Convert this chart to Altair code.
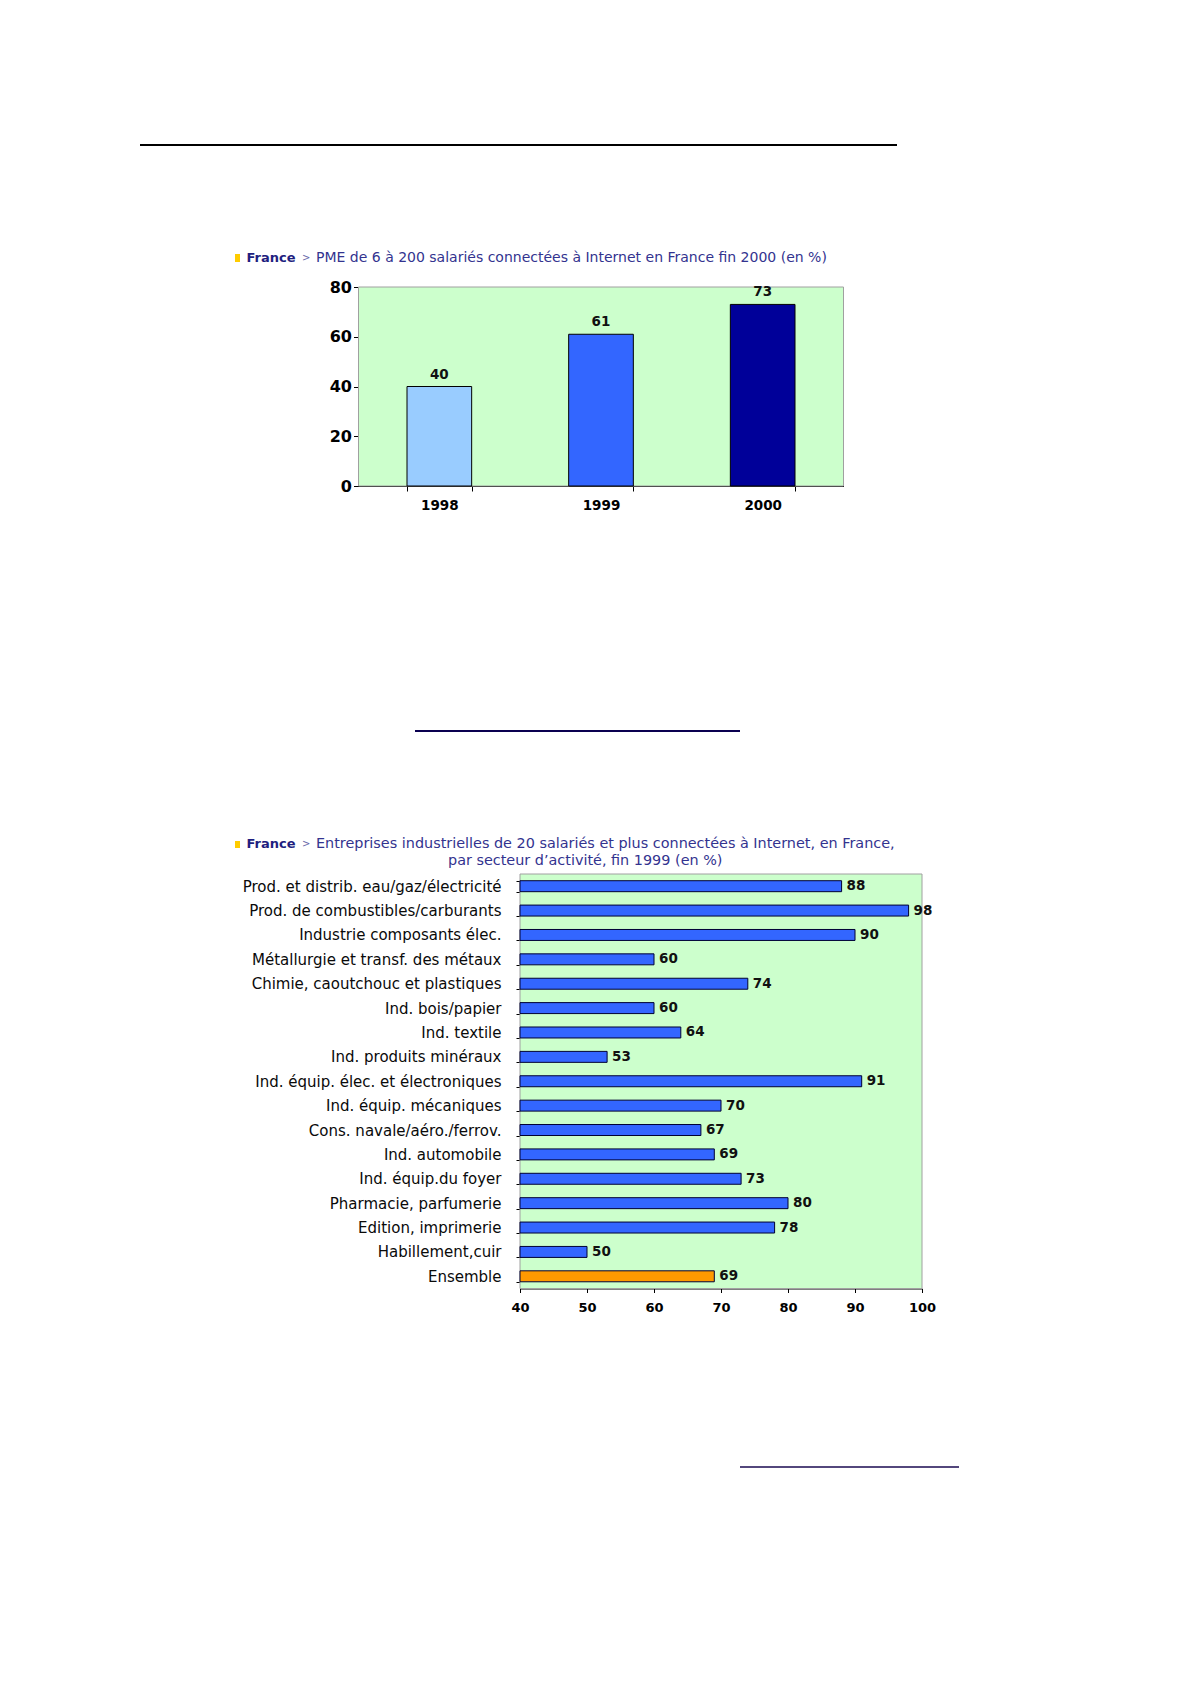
import altair as alt
import pandas as pd

# ---------------- data ----------------
YEARS = ["1998", "1999", "2000"]
PME_PCT = [40, 61, 73]
YEAR_COLORS = ["#99CCFF", "#3366FF", "#000099"]

SECTORS = [
    "Prod. et distrib. eau/gaz/électricité",
    "Prod. de combustibles/carburants",
    "Industrie composants élec.",
    "Métallurgie et transf. des métaux",
    "Chimie, caoutchouc et plastiques",
    "Ind. bois/papier",
    "Ind. textile",
    "Ind. produits minéraux",
    "Ind. équip. élec. et électroniques",
    "Ind. équip. mécaniques",
    "Cons. navale/aéro./ferrov.",
    "Ind. automobile",
    "Ind. équip.du foyer",
    "Pharmacie, parfumerie",
    "Edition, imprimerie",
    "Habillement,cuir",
    "Ensemble",
]
SECTOR_PCT = [88, 98, 90, 60, 74, 60, 64, 53, 91, 70, 67, 69, 73, 80, 78, 50, 69]
X_TICKS_B = [40, 50, 60, 70, 80, 90, 100]
Y_TICKS_A = [0, 20, 40, 60, 80]

TITLE_COUNTRY = "France"
TITLE_SEP = ">"
TITLE_A = "PME de 6 à 200 salariés connectées à Internet en France fin 2000 (en %)"
TITLE_B1 = "Entreprises industrielles de 20 salariés et plus connectées à Internet, en France,"
TITLE_B2 = "par secteur d’activité, fin 1999 (en %)"

# ---------------- layout helpers ----------------
W, H = 1174, 1668
M = 8  # page margin
FONT = "DejaVu Sans"
TITLE_COLOR = "#33338F"
one = pd.DataFrame({"k": [0]})


def p(v):
    return v - M


def rect(x1, x2, y1, y2, **kw):
    return alt.Chart(one).mark_rect(**kw).encode(
        x=alt.value(p(x1)), x2=alt.value(p(x2)), y=alt.value(p(y1)), y2=alt.value(p(y2))
    )


def rule(x1, x2, y, **kw):
    return alt.Chart(one).mark_rule(**kw).encode(
        x=alt.value(p(x1)), x2=alt.value(p(x2)), y=alt.value(p(y))
    )


def label(x, y, txt, **kw):
    return alt.Chart(one).mark_text(align="left", baseline="alphabetic", font=FONT, **kw).encode(
        x=alt.value(p(x)), y=alt.value(p(y)), text=alt.value(txt)
    )


# ---------------- chart A ----------------
A_L, A_R, A_T, A_B = 358.5, 843.5, 287, 486
dfA = pd.DataFrame({"year": YEARS, "pct": PME_PCT})

xA = alt.X(
    "year:N",
    scale=alt.Scale(domain=YEARS, range=[p(A_L), p(A_R)], paddingInner=0.6, paddingOuter=0.3),
    axis=alt.Axis(
        orient="bottom", offset=p(A_B) - H, title=None, labelAngle=0, tickBand="extent",
        tickSize=5, labelPadding=7, labelFont=FONT, labelFontSize=13.5, labelFontWeight="bold",
        labelColor="black", domainColor="black", tickColor="black", grid=False,
    ),
)
yA = alt.Y(
    "pct:Q",
    scale=alt.Scale(domain=[0, 80], range=[p(A_B), p(A_T)], nice=False, zero=True),
    axis=alt.Axis(
        orient="left", offset=-p(A_L), title=None, values=Y_TICKS_A, grid=False,
        tickSize=5, labelPadding=2, labelFont=FONT, labelFontSize=16, labelFontWeight="bold",
        labelColor="black", domainColor="black", tickColor="black",
    ),
)
bgA = rect(A_L, A_R, A_T, A_B, fill="#CCFFCC", stroke="#A0A0A0", strokeWidth=1)
barsA = alt.Chart(dfA).mark_bar(stroke="black", strokeWidth=1).encode(
    x=xA, y=yA, y2=alt.datum(0),
    color=alt.Color("year:N", scale=alt.Scale(domain=YEARS, range=YEAR_COLORS), legend=None),
)
textA = alt.Chart(dfA).mark_text(
    dy=-8, font=FONT, fontSize=13.5, fontWeight="bold", color="#111111", baseline="alphabetic"
).encode(x=xA, y=yA, text=alt.Text("pct:Q"))
chartA = alt.layer(bgA, barsA, textA)

# ---------------- chart B ----------------
B_L, B_R, B_T, B_B = 520, 922, 874, 1288.5
dfB = pd.DataFrame({"sector": SECTORS, "pct": SECTOR_PCT})

xB = alt.X(
    "pct:Q",
    scale=alt.Scale(domain=[40, 100], range=[p(B_L), p(B_R)], nice=False, zero=False),
    axis=alt.Axis(
        orient="bottom", offset=p(B_B) - H, title=None, values=X_TICKS_B, grid=False,
        tickSize=4, labelPadding=9, labelFlush=False, labelFont=FONT, labelFontSize=13,
        labelFontWeight="bold", labelColor="black", domainColor="black", tickColor="black",
    ),
)
yB = alt.Y(
    "sector:N",
    sort=SECTORS,
    scale=alt.Scale(domain=SECTORS, range=[p(B_T), p(B_B)], paddingInner=0.55, paddingOuter=0.275),
    axis=alt.Axis(
        orient="left", offset=-p(B_L), title=None, tickBand="extent", grid=False,
        tickSize=4, labelPadding=15, labelLimit=500, labelFont=FONT, labelFontSize=15,
        labelColor="#0A0A0A", domainColor="black", tickColor="black",
        labelExpr="datum.value == 'Ensemble' ? 'Ensemble\u00a0' : datum.value",
    ),
)
bgB = rect(B_L, B_R, B_T, B_B, fill="#CCFFCC", stroke="#A0A0A0", strokeWidth=1)
barsB = alt.Chart(dfB).mark_bar(stroke="#000033", strokeWidth=1).encode(
    x=xB, x2=alt.datum(40), y=yB,
    color=alt.condition(alt.datum.sector == "Ensemble", alt.value("#FF9900"), alt.value("#3366FF")),
)
textB = alt.Chart(dfB).mark_text(
    align="left", baseline="middle", dx=5, font=FONT, fontSize=13.5, fontWeight="bold", color="#111111"
).encode(x=xB, y=yB, text=alt.Text("pct:Q"))
chartB = alt.layer(bgB, barsB, textB)

# ---------------- page decorations ----------------
decor = [
    rule(140, 897, 145, color="black", strokeWidth=2),
    rule(415, 740, 731, color="#0A0050", strokeWidth=2),
    rule(740, 959, 1467, color="#1A0A50", strokeWidth=1.5),
    # title A
    rect(235, 240, 254, 262, fill="#FFCC00"),
    label(246.5, 262, TITLE_COUNTRY, fontSize=13, fontWeight="bold", color="#1F1F80"),
    label(302, 261, TITLE_SEP, fontSize=10, color="#6A6AAA"),
    label(316, 262, TITLE_A, fontSize=14, color=TITLE_COLOR),
    # title B
    rect(235, 240, 841, 848, fill="#FFCC00"),
    label(246.5, 848, TITLE_COUNTRY, fontSize=13, fontWeight="bold", color="#1F1F80"),
    label(302, 847, TITLE_SEP, fontSize=10, color="#6A6AAA"),
    label(316, 848, TITLE_B1, fontSize=14.4, color=TITLE_COLOR),
    label(448, 865, TITLE_B2, fontSize=14.4, color=TITLE_COLOR),
]

chart = (
    alt.layer(*decor, chartA, chartB)
    .resolve_scale(x="independent", y="independent", color="independent")
    .properties(width=W, height=H, autosize=alt.AutoSizeParams(type="none"), padding=0, background="white")
    .configure_view(strokeWidth=0)
)

chart.save("out.html", embed_options={"renderer": "svg", "actions": False})
